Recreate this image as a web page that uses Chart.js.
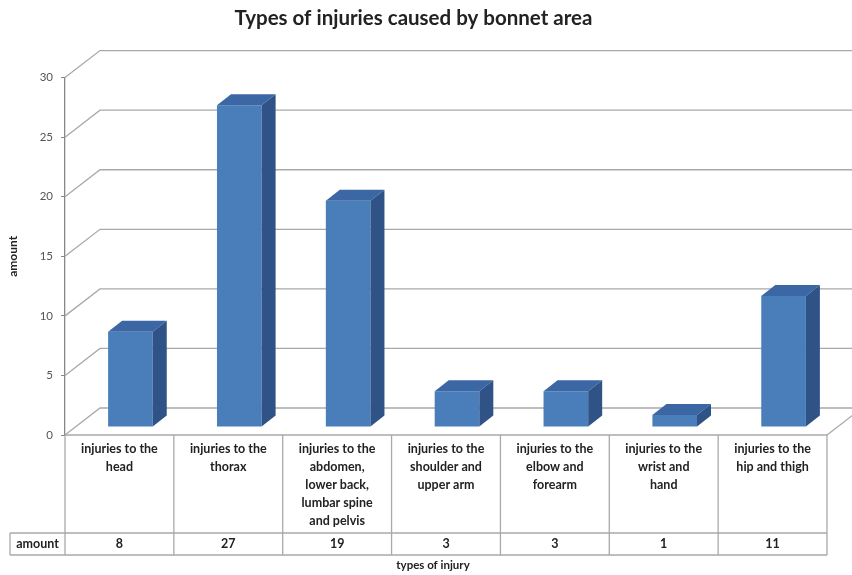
<!DOCTYPE html>
<html>
<head>
<meta charset="utf-8">
<title>Types of injuries caused by bonnet area</title>
<script src="https://cdn.jsdelivr.net/npm/chart.js@4.4.1/dist/chart.umd.min.js"></script>
<style>
  html, body { margin: 0; padding: 0; background: #fff; }
  #wrap { width: 852px; height: 575px; }
</style>
</head>
<body>
<div id="wrap"><canvas id="injuryChart"></canvas></div>
<script>
// categories (already split into the lines shown in the table)
const categories = [
  ['injuries to the', 'head'],
  ['injuries to the', 'thorax'],
  ['injuries to the', 'abdomen,', 'lower back,', 'lumbar spine', 'and pelvis'],
  ['injuries to the', 'shoulder and', 'upper arm'],
  ['injuries to the', 'elbow and', 'forearm'],
  ['injuries to the', 'wrist and', 'hand'],
  ['injuries to the', 'hip and thigh']
];
const amounts = [8, 27, 19, 3, 3, 1, 11];
const yTicks = [0, 5, 10, 15, 20, 25, 30];

const FONT = 'Lato, "Open Sans", sans-serif';
const GRID = '#a9a9a9';
const FRONT = '#4a7ebb';
const TOP = '#3b67a4';
const SIDE = '#2f5386';

// 3D geometry: wall depth and where the bars sit inside it
const WALL = { dx: 35, dy: -27 };
const BAR_SHIFT = { dx: 11, dy: -8 };
const BAR_DEPTH = { dx: 14, dy: -11 };

const bars3d = {
  id: 'bars3d',
  beforeDatasetsDraw(chart) {
    const { ctx, chartArea, scales: { y } } = chart;
    const left = chartArea.left, right = chartArea.right;
    ctx.save();
    ctx.strokeStyle = GRID;
    ctx.lineWidth = 1.3;
    // back wall gridlines
    yTicks.forEach(v => {
      const py = y.getPixelForValue(v);
      ctx.beginPath();
      ctx.moveTo(left, py);
      ctx.lineTo(left + WALL.dx, py + WALL.dy);
      ctx.lineTo(chart.width, py + WALL.dy);
      ctx.stroke();
    });
    // floor right edge
    const py0 = y.getPixelForValue(0);
    ctx.beginPath();
    ctx.moveTo(right, py0);
    ctx.lineTo(right + WALL.dx, py0 + WALL.dy);
    ctx.stroke();
    ctx.restore();

    // bars are drawn inside the wall, a little back from the front plane
    ctx.save();
    ctx.translate(BAR_SHIFT.dx, BAR_SHIFT.dy);
  },
  afterDatasetsDraw(chart) {
    const { ctx } = chart;
    const meta = chart.getDatasetMeta(0);
    meta.data.forEach(bar => {
      const l = bar.x - bar.width / 2, r = bar.x + bar.width / 2;
      const t = bar.y, b = bar.base;
      // top face
      ctx.fillStyle = TOP;
      ctx.beginPath();
      ctx.moveTo(l, t);
      ctx.lineTo(l + BAR_DEPTH.dx, t + BAR_DEPTH.dy);
      ctx.lineTo(r + BAR_DEPTH.dx, t + BAR_DEPTH.dy);
      ctx.lineTo(r, t);
      ctx.closePath();
      ctx.fill();
      // side face
      ctx.fillStyle = SIDE;
      ctx.beginPath();
      ctx.moveTo(r, t);
      ctx.lineTo(r + BAR_DEPTH.dx, t + BAR_DEPTH.dy);
      ctx.lineTo(r + BAR_DEPTH.dx, b + BAR_DEPTH.dy);
      ctx.lineTo(r, b);
      ctx.closePath();
      ctx.fill();
    });
    ctx.restore();
  }
};

// data table under the floor
const dataTable = {
  id: 'dataTable',
  afterDraw(chart) {
    const { ctx, chartArea, scales: { x, y } } = chart;
    const top = y.getPixelForValue(0);
    const rowTop = 533, rowBottom = 555;
    const colW = (chartArea.right - chartArea.left) / categories.length;
    const labelLeft = 10;

    ctx.save();
    ctx.strokeStyle = GRID;
    ctx.lineWidth = 1.3;
    ctx.beginPath();
    ctx.moveTo(chartArea.left, top);
    ctx.lineTo(chartArea.right, top);
    ctx.moveTo(labelLeft, rowTop);
    ctx.lineTo(chartArea.right, rowTop);
    ctx.moveTo(labelLeft, rowBottom);
    ctx.lineTo(chartArea.right, rowBottom);
    ctx.moveTo(labelLeft, rowTop);
    ctx.lineTo(labelLeft, rowBottom);
    for (let i = 0; i <= categories.length; i++) {
      const bx = chartArea.left + i * colW;
      ctx.moveTo(bx, top);
      ctx.lineTo(bx, rowBottom);
    }
    ctx.stroke();

    ctx.fillStyle = '#222';
    ctx.font = 'bold 12.5px ' + FONT;
    ctx.textAlign = 'center';
    ctx.textBaseline = 'middle';
    categories.forEach((lines, i) => {
      const cx = x.getPixelForValue(i);
      lines.forEach((line, j) => ctx.fillText(line, cx, 449 + j * 18));
      ctx.fillText(String(amounts[i]), cx, (rowTop + rowBottom) / 2);
    });
    ctx.fillText('amount', (labelLeft + chartArea.left) / 2, (rowTop + rowBottom) / 2);
    ctx.font = 'bold 11.5px ' + FONT;
    ctx.fillText('types of injury', 433, 565);
    ctx.restore();
  }
};

new Chart(document.getElementById('injuryChart'), {
  type: 'bar',
  data: {
    labels: categories,
    datasets: [{
      label: 'amount',
      data: amounts,
      backgroundColor: FRONT,
      borderWidth: 0,
      categoryPercentage: 1,
      barPercentage: 0.41,
      clip: false
    }]
  },
  options: {
    responsive: true,
    maintainAspectRatio: false,
    animation: false,
    layout: { padding: { left: 0, right: 25, bottom: 140, top: 0 } },
    plugins: {
      legend: { display: false },
      tooltip: { enabled: false },
      title: {
        display: true,
        text: 'Types of injuries caused by bonnet area',
        color: '#222',
        font: { family: FONT, size: 20.5, weight: 'bold' },
        padding: { top: 6, bottom: 47 }
      }
    },
    scales: {
      x: { display: false },
      y: {
        min: 0,
        max: 30,
        ticks: { stepSize: 5, color: '#555', padding: 8, font: { family: FONT, size: 11.5 } },
        grid: { drawOnChartArea: false, drawTicks: true, tickLength: 4, color: '#888' },
        border: { color: '#888', width: 1.3 },
        title: {
          display: true,
          text: 'amount',
          color: '#222',
          font: { family: FONT, size: 12, weight: 'bold' },
          padding: { top: 6, bottom: 0 }
        },
        afterFit(scale) { scale.width = 65; }
      }
    }
  },
  plugins: [bars3d, dataTable]
});
</script>
</body>
</html>
